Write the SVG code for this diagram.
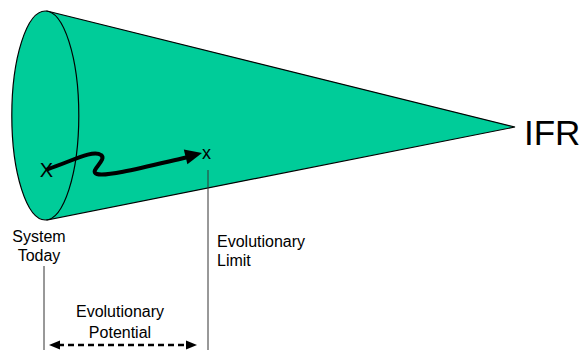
<svg xmlns="http://www.w3.org/2000/svg" width="581" height="351" viewBox="0 0 581 351">
<style>
.lbl{font-family:"Liberation Sans",Arial,sans-serif;fill:#000}
.thin{stroke:#333;stroke-width:1;fill:none}
</style>
<rect width="581" height="351" fill="#fff"/>
<g id="cone">
<polygon points="47,11 515,127 47,220" fill="#00cc99" stroke="#000" stroke-width="1.2" stroke-linejoin="miter"/>
<ellipse cx="45.3" cy="115.5" rx="33.5" ry="104.5" fill="#00cc99" stroke="#000" stroke-width="1.2"/>
</g>
<g id="system-today-mark">
<text class="lbl" x="46.5" y="177" font-size="20" text-anchor="middle">X</text>
</g>
<g id="limit-mark">
<text class="lbl" x="202" y="158.5" font-size="18">x</text>
</g>
<g id="ifr">
<text class="lbl" x="524" y="145" font-size="35">IFR</text>
</g>
<g id="labels">
<text class="lbl" x="39" y="241.5" font-size="16" text-anchor="middle">System</text>
<text class="lbl" x="39" y="260.5" font-size="16" text-anchor="middle">Today</text>
<text class="lbl" x="217" y="247" font-size="16">Evolutionary</text>
<text class="lbl" x="217" y="266" font-size="16">Limit</text>
<text class="lbl" x="120" y="317" font-size="16" text-anchor="middle">Evolutionary</text>
<text class="lbl" x="120" y="337.5" font-size="16" text-anchor="middle">Potential</text>
</g>
<g id="connectors">
<path d="M48,169 C70,162 93,149 101,155 C108,160 88,171 97,174 C106,177 145,167 186,157.5" fill="none" stroke="#000" stroke-width="4" stroke-linecap="round"/>
<polygon points="202,153 187.4,164.2 183.8,149.5" fill="#000"/>
<line class="thin" x1="44" y1="266" x2="44" y2="350"/>
<line class="thin" x1="208" y1="170" x2="208" y2="350"/>
<line x1="58" y1="345" x2="188" y2="345" stroke="#000" stroke-width="2.5" stroke-dasharray="6,4"/>
<polygon points="49,345 60,340.5 60,349.5" fill="#000"/>
<polygon points="197,345 186,340.5 186,349.5" fill="#000"/>
</g>
</svg>
